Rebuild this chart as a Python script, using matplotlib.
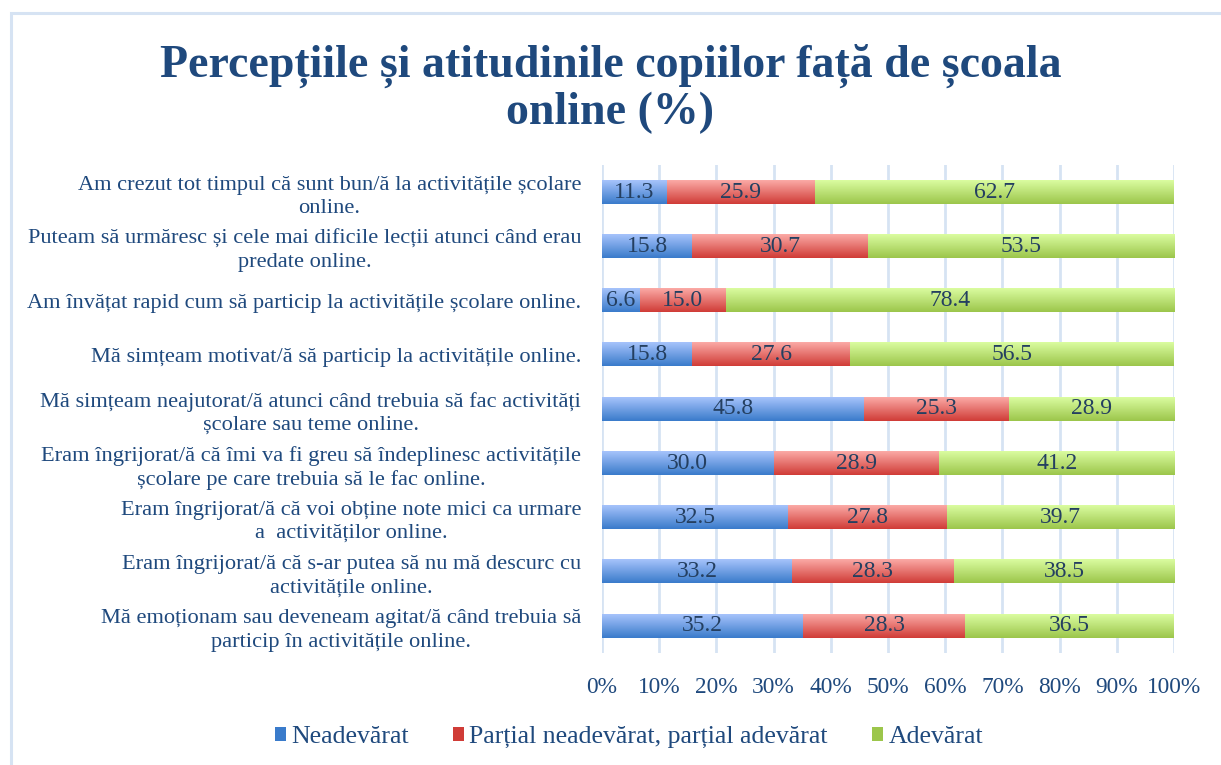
import matplotlib
matplotlib.use("Agg")
import matplotlib.pyplot as plt
import numpy as np
from matplotlib.colors import LinearSegmentedColormap
from matplotlib.patches import Rectangle

# data (top row first)
statements = [
    "Am crezut tot timpul că sunt bun/ă la activitățile școlare\nonline.",
    "Puteam să urmăresc și cele mai dificile lecții atunci când erau\npredate online.",
    "Am învățat rapid cum să particip la activitățile școlare online.",
    "Mă simțeam motivat/ă să particip la activitățile online.",
    "Mă simțeam neajutorat/ă atunci când trebuia să fac activități\nșcolare sau teme online.",
    "Eram îngrijorat/ă că îmi va fi greu să îndeplinesc activitățile\nșcolare pe care trebuia să le fac online.",
    "Eram îngrijorat/ă că voi obține note mici ca urmare\na  activităților online.",
    "Eram îngrijorat/ă că s-ar putea să nu mă descurc cu\nactivitățile online.",
    "Mă emoționam sau deveneam agitat/ă când trebuia să\nparticip în activitățile online.",
]
neadevarat = [11.3, 15.8, 6.6, 15.8, 45.8, 30.0, 32.5, 33.2, 35.2]
partial = [25.9, 30.7, 15.0, 27.6, 25.3, 28.9, 27.8, 28.3, 28.3]
adevarat = [62.7, 53.5, 78.4, 56.5, 28.9, 41.2, 39.7, 38.5, 36.5]
series_names = ["Neadevărat", "Parțial neadevărat, parțial adevărat", "Adevărat"]

plt.rcParams['font.family'] = ['Liberation Serif', 'DejaVu Serif']
txt_col = "#1F497D"
lbl_col = "#243F60"

# gradient colours (top, bottom)
grads = [("#A6C3FB", "#3A7BCB"), ("#FBAAA6", "#D03C37"), ("#DAFCA0", "#9CC64B")]

fig = plt.figure(figsize=(12.21, 7.65), dpi=100)
fig.patches.append(Rectangle((11 / 1221, -0.1), 1.2, 1 - 13 / 765 + 0.1, transform=fig.transFigure,
                             fill=False, edgecolor="#D6E3F3", linewidth=2.2))

ax = fig.add_axes([602 / 1221, 1 - 653 / 765, 572 / 1221, 488 / 765])

y = np.arange(len(statements))
left = np.zeros(len(statements))
for vals, name, (c_top, c_bot) in zip([neadevarat, partial, adevarat], series_names, grads):
    vals = np.array(vals)
    cmap = LinearSegmentedColormap.from_list(name, [c_bot, c_top])
    bars = ax.barh(y, vals, left=left, height=0.43, color=c_bot, label=name, zorder=2)
    grad = np.linspace(0, 1, 64).reshape(-1, 1)
    for b in bars:
        x0, y0 = b.get_x(), b.get_y()
        ax.imshow(grad, extent=[x0, x0 + b.get_width(), y0 + b.get_height(), y0],
                  cmap=cmap, aspect='auto', origin='lower', zorder=2.5, interpolation='bilinear')
    for yi, l, v in zip(y, left, vals):
        ax.text(l + v / 2, yi, f"{v:.1f}", ha='center', va='center', fontsize=17,
                color=lbl_col, zorder=3)
    left = left + vals

ax.set_xlim(0, 100)
ax.set_ylim(len(statements) - 0.5, -0.5)
ax.set_xticks(np.arange(0, 101, 10))
ax.set_xticklabels([f"{t}%" for t in range(0, 101, 10)], fontsize=16.8, color=txt_col)
ax.set_yticks(y)
ax.set_yticklabels(statements, fontsize=16.1, color=txt_col, multialignment='center', linespacing=1.3)
ax.tick_params(axis='x', length=0, pad=17)
ax.tick_params(axis='y', length=0, pad=15)
for s in ax.spines.values():
    s.set_visible(False)
ax.xaxis.grid(True, color="#D6E3F3", linewidth=2)
ax.set_axisbelow(True)

fig.text(0.5, 1 - 89 / 765, "Percepțiile și atitudinile copiilor față de școala\nonline (%)",
         ha='center', va='center', fontsize=33, fontweight='bold', color=txt_col, linespacing=1.1)

handles = [Rectangle((0, 0), 1, 1, facecolor=c[1]) for c in grads]
fig.legend(handles, series_names, loc='center', bbox_to_anchor=(0.515, 1 - 737 / 765), ncol=3,
           frameon=False, fontsize=18.5, handlelength=0.45, handleheight=0.45, handletextpad=0.2,
           columnspacing=1.7, labelcolor=txt_col)

fig.savefig("out.png", dpi=100)
